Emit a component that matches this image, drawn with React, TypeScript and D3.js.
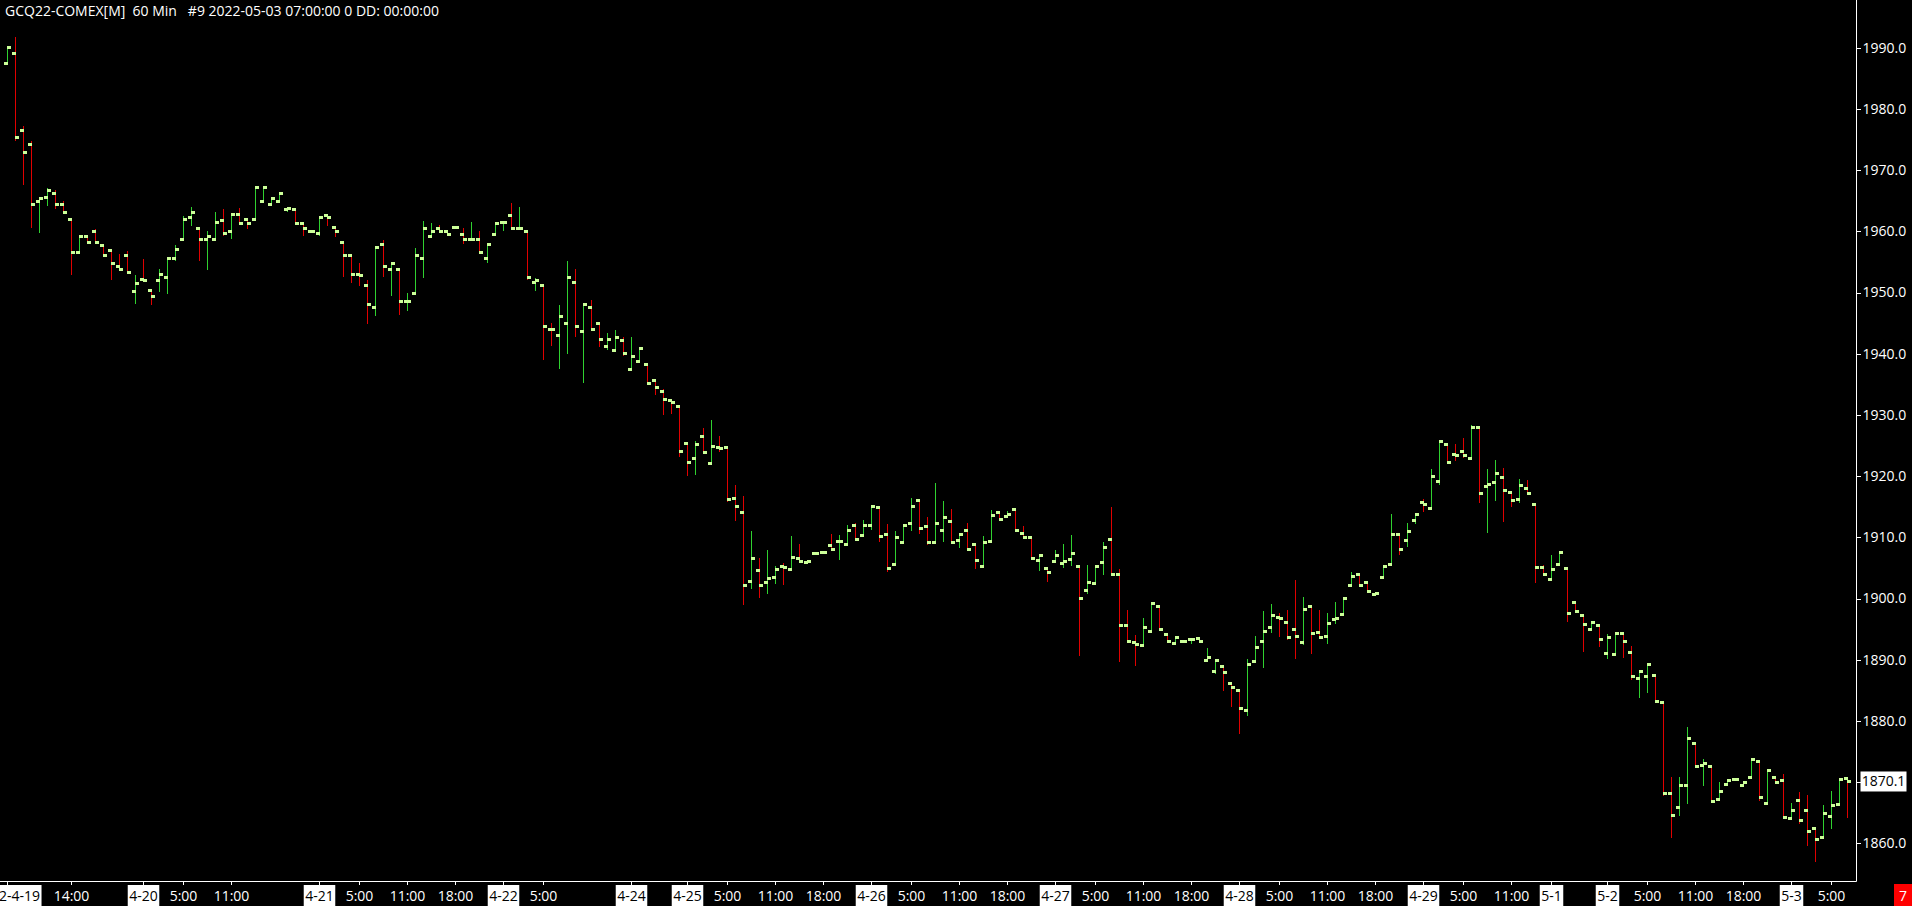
import { useEffect, useRef } from "react";
import * as d3 from "d3";

// GCQ22 60 min OHLC, bar 0 = 4-19 06:00 ... bar 230 = 5-03 07:00
const opens = [
  1987.5, 1989.1, 1976.4, 1974.2, 1964.8, 1965.6, 1966.2, 1964.4, 1962.0, 1956.5,
  1959.1, 1959.9, 1957.6, 1956.8, 1954.2, 1956.1, 1950.1, 1952.1, 1950.4, 1952.0,
  1952.5, 1955.6, 1958.6, 1962.3, 1960.4, 1958.6, 1958.6, 1961.8, 1960.0, 1962.7,
  1962.0, 1962.0, 1964.9, 1964.3, 1964.8, 1963.6, 1963.5, 1961.3, 1960.0, 1959.7,
  1962.6, 1960.7, 1958.1, 1956.0, 1952.9, 1951.2, 1947.6, 1957.8, 1953.8, 1953.7,
  1948.5, 1949.8, 1955.6, 1959.2, 1960.4, 1960.0, 1960.7, 1959.5, 1958.6, 1958.6,
  1955.6, 1959.5, 1961.5, 1962.6, 1960.4, 1959.9, 1951.6, 1951.2, 1944.0, 1942.9,
  1945.0, 1951.7, 1943.7, 1947.6, 1944.9, 1941.1, 1940.5, 1942.1, 1937.5, 1938.8,
  1938.2, 1935.7, 1933.9, 1932.3, 1931.3, 1925.4, 1922.8, 1926.4, 1922.0, 1924.6,
  1924.6, 1916.3, 1914.0, 1902.8, 1904.6, 1902.6, 1903.4, 1905.2, 1904.7, 1906.5,
  1905.9, 1907.3, 1907.5, 1908.6, 1909.3, 1908.8, 1911.9, 1910.3, 1911.9, 1914.8,
  1910.4, 1905.5, 1909.1, 1912.2, 1916.0, 1911.7, 1909.1, 1911.1, 1912.6, 1909.5,
  1911.1, 1908.8, 1905.2, 1909.3, 1914.0, 1913.4, 1914.5, 1910.6, 1909.9, 1906.2,
  1904.9, 1906.0, 1905.7, 1906.4, 1905.2, 1901.3, 1902.4, 1905.9, 1909.6, 1903.9,
  1895.6, 1892.8, 1892.3, 1894.6, 1898.7, 1894.1, 1892.6, 1893.0, 1893.3, 1893.5,
  1889.9, 1888.1, 1888.9, 1886.1, 1885.0, 1881.7, 1889.7, 1893.0, 1895.3, 1896.9,
  1896.1, 1894.9, 1892.8, 1898.7, 1894.4, 1893.8, 1896.6, 1897.4, 1902.1, 1903.9,
  1902.6, 1900.6, 1903.4, 1905.5, 1910.4, 1909.5, 1912.7, 1915.7, 1914.7, 1919.1,
  1925.1, 1923.5, 1924.1, 1922.8, 1927.9, 1918.3, 1918.9, 1919.7, 1917.3, 1916.1,
  1917.9, 1915.3, 1905.0, 1903.1, 1905.5, 1904.9, 1899.3, 1897.2, 1894.9, 1895.6,
  1891.0, 1890.8, 1894.3, 1891.2, 1886.9, 1887.3, 1887.4, 1883.0, 1868.2, 1865.9,
  1869.4, 1876.3, 1872.7, 1872.6, 1867.2, 1869.6, 1870.5, 1869.5, 1870.8, 1873.4,
  1866.5, 1870.8, 1870.3, 1864.1, 1867.0, 1865.4, 1862.5, 1861.0, 1864.4, 1866.4,
  1870.6,
];

const highs = [
  1990.1, 1991.8, 1977.2, 1974.8, 1965.4, 1967.1, 1966.8, 1964.9, 1962.0, 1959.1,
  1959.1, 1960.4, 1957.6, 1956.8, 1956.3, 1956.8, 1952.9, 1955.4, 1950.4, 1953.9,
  1955.6, 1957.8, 1962.5, 1964.0, 1960.4, 1960.1, 1963.2, 1963.7, 1962.8, 1963.8,
  1962.0, 1967.2, 1967.4, 1965.3, 1966.2, 1963.8, 1963.5, 1961.3, 1960.0, 1962.5,
  1962.6, 1960.7, 1958.1, 1956.0, 1954.9, 1952.1, 1957.3, 1958.5, 1954.8, 1953.7,
  1950.0, 1957.2, 1961.7, 1961.3, 1961.0, 1960.0, 1960.7, 1960.6, 1961.5, 1960.1,
  1957.8, 1961.3, 1961.5, 1964.7, 1964.0, 1959.9, 1952.4, 1951.2, 1945.0, 1948.0,
  1955.2, 1953.9, 1948.0, 1948.8, 1944.9, 1943.4, 1943.8, 1942.8, 1942.8, 1940.9,
  1938.2, 1935.7, 1934.3, 1932.3, 1931.3, 1925.4, 1925.8, 1927.8, 1929.1, 1926.5,
  1924.6, 1918.5, 1916.7, 1911.1, 1906.6, 1908.0, 1905.3, 1905.8, 1910.2, 1908.9,
  1906.0, 1907.3, 1907.5, 1910.5, 1910.3, 1912.0, 1912.4, 1912.8, 1915.0, 1914.8,
  1912.1, 1911.0, 1911.9, 1916.5, 1916.3, 1913.3, 1918.8, 1915.9, 1914.7, 1910.4,
  1912.3, 1908.8, 1910.2, 1914.4, 1914.0, 1914.3, 1914.5, 1911.8, 1909.9, 1907.0,
  1904.9, 1907.9, 1908.9, 1910.3, 1905.2, 1905.4, 1905.2, 1909.3, 1914.9, 1904.9,
  1898.2, 1894.0, 1896.8, 1899.2, 1898.7, 1894.1, 1893.6, 1893.3, 1893.6, 1893.5,
  1891.9, 1889.9, 1888.9, 1886.1, 1885.0, 1890.1, 1893.8, 1897.9, 1899.1, 1897.7,
  1898.1, 1903.0, 1900.2, 1898.7, 1898.1, 1897.6, 1899.4, 1900.0, 1904.4, 1903.9,
  1902.6, 1900.8, 1905.5, 1913.8, 1910.4, 1912.4, 1913.7, 1916.3, 1921.1, 1925.6,
  1925.1, 1925.2, 1926.2, 1928.3, 1927.9, 1921.1, 1922.6, 1921.4, 1917.3, 1919.5,
  1919.4, 1915.3, 1905.4, 1907.1, 1907.7, 1904.9, 1899.3, 1897.2, 1896.4, 1895.6,
  1894.2, 1894.4, 1894.4, 1892.2, 1888.1, 1889.5, 1887.4, 1883.0, 1870.8, 1870.8,
  1879.0, 1876.3, 1873.7, 1872.6, 1870.0, 1870.2, 1870.5, 1870.0, 1873.7, 1873.4,
  1872.2, 1870.8, 1871.3, 1866.6, 1868.4, 1867.9, 1862.5, 1866.3, 1868.6, 1870.5,
  1870.6,
];

const lows = [
  1987.5, 1974.7, 1967.6, 1960.6, 1959.8, 1964.1, 1963.7, 1963.0, 1952.9, 1956.5,
  1958.1, 1958.1, 1956.1, 1952.1, 1953.7, 1953.3, 1948.2, 1951.9, 1948.0, 1950.1,
  1949.7, 1955.2, 1958.6, 1960.9, 1955.2, 1953.7, 1958.6, 1959.3, 1958.8, 1961.3,
  1960.4, 1962.0, 1964.9, 1964.3, 1964.8, 1963.2, 1961.0, 1959.3, 1959.9, 1959.2,
  1960.9, 1959.1, 1952.5, 1951.5, 1951.0, 1944.9, 1946.2, 1952.6, 1949.5, 1946.4,
  1946.9, 1949.8, 1952.4, 1959.2, 1960.0, 1959.5, 1960.7, 1957.9, 1958.6, 1956.6,
  1954.8, 1959.5, 1960.0, 1960.5, 1960.4, 1952.0, 1950.2, 1938.9, 1941.2, 1937.5,
  1939.9, 1942.8, 1935.2, 1944.0, 1941.1, 1940.6, 1940.5, 1939.6, 1937.5, 1938.8,
  1935.2, 1933.2, 1930.0, 1930.1, 1923.1, 1920.0, 1920.2, 1923.8, 1922.0, 1923.9,
  1915.7, 1912.7, 1899.0, 1901.6, 1900.1, 1900.8, 1902.4, 1902.2, 1904.7, 1906.0,
  1905.9, 1907.3, 1907.5, 1908.0, 1906.3, 1908.8, 1909.6, 1910.3, 1911.2, 1909.2,
  1904.3, 1905.5, 1909.1, 1911.0, 1910.5, 1908.8, 1909.1, 1909.2, 1909.1, 1908.3,
  1908.0, 1904.8, 1905.2, 1909.3, 1912.9, 1913.4, 1911.1, 1909.9, 1906.5, 1904.5,
  1902.7, 1906.0, 1905.0, 1905.3, 1890.6, 1900.8, 1902.4, 1903.8, 1903.9, 1889.7,
  1893.0, 1889.0, 1892.3, 1894.6, 1894.9, 1893.0, 1892.6, 1893.0, 1892.6, 1893.0,
  1889.9, 1887.7, 1884.9, 1882.3, 1877.9, 1880.8, 1889.7, 1888.7, 1894.4, 1893.7,
  1893.3, 1890.1, 1892.4, 1891.0, 1893.6, 1892.6, 1895.9, 1897.4, 1902.1, 1902.1,
  1901.1, 1900.6, 1903.4, 1905.5, 1907.1, 1908.4, 1912.2, 1914.1, 1914.7, 1918.5,
  1922.3, 1922.5, 1923.0, 1922.6, 1915.6, 1910.7, 1915.9, 1912.5, 1914.9, 1915.6,
  1917.1, 1902.5, 1903.9, 1903.1, 1905.5, 1896.2, 1897.9, 1891.3, 1894.9, 1892.1,
  1890.1, 1890.6, 1890.3, 1886.7, 1883.8, 1884.6, 1883.1, 1867.8, 1860.9, 1864.4,
  1866.5, 1872.3, 1869.3, 1866.9, 1866.9, 1869.6, 1870.5, 1869.5, 1870.8, 1866.9,
  1866.5, 1870.0, 1864.2, 1864.1, 1863.2, 1859.5, 1856.9, 1861.0, 1862.3, 1866.4,
  1864.2,
];

const closes = [
  1990.1, 1975.4, 1972.9, 1964.3, 1965.4, 1966.6, 1964.4, 1963.0, 1956.5, 1959.1,
  1958.1, 1958.1, 1956.1, 1954.7, 1953.7, 1953.3, 1951.4, 1951.9, 1949.4, 1953.0,
  1955.6, 1957.1, 1962.0, 1963.1, 1958.7, 1959.1, 1961.5, 1959.7, 1962.8, 1961.3,
  1961.2, 1967.2, 1967.1, 1965.3, 1966.2, 1963.8, 1961.3, 1960.5, 1959.9, 1962.2,
  1962.3, 1959.9, 1956.0, 1952.9, 1952.7, 1948.1, 1957.3, 1954.2, 1954.8, 1948.6,
  1948.6, 1956.1, 1960.4, 1960.0, 1960.0, 1959.5, 1960.7, 1958.7, 1958.7, 1956.6,
  1957.8, 1961.3, 1961.5, 1960.5, 1960.5, 1952.4, 1952.0, 1944.5, 1943.9, 1946.0,
  1952.5, 1944.5, 1948.0, 1944.0, 1942.4, 1942.4, 1942.7, 1940.1, 1939.6, 1940.9,
  1935.2, 1934.4, 1932.5, 1932.1, 1924.0, 1922.3, 1925.1, 1923.8, 1924.8, 1924.5,
  1916.1, 1915.0, 1902.1, 1906.5, 1902.1, 1903.3, 1904.7, 1905.0, 1906.7, 1906.0,
  1906.0, 1907.3, 1907.5, 1908.0, 1909.3, 1911.1, 1909.6, 1911.9, 1915.0, 1910.1,
  1904.9, 1909.9, 1911.9, 1915.0, 1911.4, 1909.1, 1912.2, 1913.2, 1909.1, 1910.4,
  1908.0, 1906.2, 1909.1, 1913.5, 1912.9, 1913.7, 1911.1, 1909.9, 1906.5, 1907.0,
  1904.2, 1907.0, 1906.0, 1907.3, 1900.0, 1902.6, 1905.2, 1908.3, 1903.9, 1895.6,
  1893.0, 1892.5, 1895.3, 1899.2, 1894.9, 1893.0, 1893.6, 1893.0, 1893.3, 1893.0,
  1890.4, 1889.9, 1887.9, 1885.5, 1882.0, 1889.2, 1892.0, 1894.6, 1897.2, 1896.7,
  1893.6, 1893.8, 1898.2, 1894.3, 1893.6, 1895.9, 1896.7, 1900.0, 1903.6, 1902.1,
  1901.1, 1900.8, 1905.2, 1910.4, 1908.0, 1910.9, 1913.7, 1915.3, 1919.9, 1925.6,
  1922.3, 1923.3, 1923.3, 1927.9, 1917.1, 1918.6, 1920.4, 1917.6, 1916.0, 1918.4,
  1917.1, 1905.0, 1903.9, 1904.7, 1907.5, 1897.5, 1897.9, 1895.7, 1896.1, 1893.3,
  1893.6, 1894.3, 1893.0, 1887.3, 1888.1, 1889.2, 1883.1, 1868.2, 1864.6, 1869.4,
  1877.1, 1872.6, 1873.1, 1866.9, 1868.5, 1870.2, 1870.5, 1870.0, 1873.7, 1867.5,
  1871.9, 1870.0, 1864.2, 1865.4, 1863.8, 1862.0, 1860.6, 1864.9, 1866.2, 1870.5,
  1870.1,
];

// time axis labels (bar index -> label); date labels get a white box
const tickIdx = [
  0, 8, 17, 22, 28, 39, 44, 50, 56, 62, 67, 78, 85, 90, 96, 102, 108, 113, 119,
  125, 131, 136, 142, 148, 154, 159, 165, 171, 177, 182, 188, 193, 200, 205, 211,
  217, 223, 228,
];
const tickText = [
  "2022-4-19", "14:00", "4-20", "5:00", "11:00", "4-21", "5:00", "11:00", "18:00",
  "4-22", "5:00", "4-24", "4-25", "5:00", "11:00", "18:00", "4-26", "5:00", "11:00",
  "18:00", "4-27", "5:00", "11:00", "18:00", "4-28", "5:00", "11:00", "18:00",
  "4-29", "5:00", "11:00", "5-1", "5-2", "5:00", "11:00", "18:00", "5-3", "5:00",
];

const priceTicks = [1860, 1870, 1880, 1890, 1900, 1910, 1920, 1930, 1940, 1950, 1960, 1970, 1980, 1990];

const TITLE = "GCQ22-COMEX[M]  60 Min   #9 2022-05-03 07:00:00 0 DD: 00:00:00";

const WIDTH = 1912;
const HEIGHT = 906;
const FONT = "'Segoe UI', 'Open Sans', sans-serif";
const UP = "#2fd12f";
const DOWN = "#e00000";
const TICK = "#ccff99";

export default function App() {
  const svgRef = useRef<SVGSVGElement>(null);

  useEffect(() => {
    if (!svgRef.current) return;
    const svg = d3.select(svgRef.current);
    svg.selectAll("*").remove();

    const axisX = 1856.5;
    const axisY = 881.5;
    const n = opens.length;

    const x = d3.scaleLinear().domain([0, n - 1]).range([7.5, 7.5 + 8 * (n - 1)]);
    const y = d3.scaleLinear().domain([1860, 1990]).range([843.3, 47.7]);

    svg.append("rect").attr("width", WIDTH).attr("height", HEIGHT).attr("fill", "#000");

    const idx = d3.range(n);
    const color = (i: number) => (closes[i] >= opens[i] ? UP : DOWN);

    const bars = svg.append("g").attr("shape-rendering", "crispEdges");

    // high-low stems
    bars.selectAll(".stem").data(idx).enter().append("rect")
      .attr("x", i => x(i) - 0.5).attr("width", 1)
      .attr("y", i => y(highs[i]))
      .attr("height", i => Math.max(1, y(lows[i]) - y(highs[i])))
      .attr("fill", color);

    // open ticks (left) and close ticks (right)
    bars.selectAll(".open").data(idx).enter().append("rect")
      .attr("x", i => x(i) - 3.5).attr("width", 4)
      .attr("y", i => y(opens[i]) - 1.5).attr("height", 3)
      .attr("fill", TICK);
    bars.selectAll(".close").data(idx).enter().append("rect")
      .attr("x", i => x(i) - 0.5).attr("width", 4)
      .attr("y", i => y(closes[i]) - 1.5).attr("height", 3)
      .attr("fill", TICK);

    // axis frame
    svg.append("line")
      .attr("x1", axisX).attr("x2", axisX).attr("y1", 0).attr("y2", axisY)
      .attr("stroke", "#fff").attr("stroke-width", 1);
    svg.append("line")
      .attr("x1", 0).attr("x2", axisX).attr("y1", axisY).attr("y2", axisY)
      .attr("stroke", "#fff").attr("stroke-width", 1);

    // price axis
    svg.append("g").attr("transform", `translate(${axisX},0)`)
      .call(d3.axisRight(y).tickValues(priceTicks).tickFormat(d3.format(".1f")).tickSize(4).tickPadding(2))
      .call(ax => ax.select(".domain").remove())
      .call(ax => ax.selectAll(".tick line").attr("stroke", "#fff").attr("shape-rendering", "crispEdges"))
      .call(ax => ax.selectAll(".tick text").attr("fill", "#fff")
        .attr("font-size", 14).attr("font-family", FONT));

    // time axis
    const tx = svg.append("g");
    tickIdx.forEach((ti, k) => {
      const px = x(ti);
      tx.append("line")
        .attr("x1", px).attr("x2", px).attr("y1", axisY).attr("y2", axisY + 3.5)
        .attr("stroke", "#fff").attr("shape-rendering", "crispEdges");
      const isDate = tickText[k].includes("-");
      const t = tx.append("text")
        .attr("x", px).attr("y", 900.5)
        .attr("text-anchor", "middle")
        .attr("font-size", 14).attr("font-family", FONT)
        .attr("fill", isDate ? "#000" : "#fff")
        .text(tickText[k]);
      if (isDate) {
        const w = (t.node() as SVGTextElement).getComputedTextLength() + 3;
        tx.insert("rect", () => t.node() as Element)
          .attr("x", px - w / 2).attr("y", 885).attr("width", w).attr("height", 21)
          .attr("fill", "#fff");
      }
    });

    // last price marker
    const last = closes[n - 1];
    svg.append("rect")
      .attr("x", 1860.5).attr("y", y(last) - 10).attr("width", 46).attr("height", 20)
      .attr("fill", "#fff");
    svg.append("text")
      .attr("x", 1883.5).attr("y", y(last)).attr("dy", "0.35em")
      .attr("text-anchor", "middle")
      .attr("font-size", 14).attr("font-family", FONT).attr("fill", "#000")
      .text(d3.format(".1f")(last));

    // corner flag
    svg.append("rect").attr("x", 1894).attr("y", 884).attr("width", 18).attr("height", 22)
      .attr("fill", "#ff0000");
    svg.append("text").attr("x", 1903).attr("y", 900.5).attr("text-anchor", "middle")
      .attr("font-size", 14).attr("font-family", FONT).attr("fill", "#fff").text("7");

    // title
    svg.append("text")
      .attr("x", 5).attr("y", 16)
      .attr("font-size", 14).attr("font-family", FONT).attr("fill", "#fff")
      .style("white-space", "pre")
      .text(TITLE);
  }, []);

  return (
    <div style={{ position: "absolute", left: 0, top: 0 }}>
      <svg ref={svgRef} width={WIDTH} height={HEIGHT} style={{ display: "block" }} />
    </div>
  );
}
